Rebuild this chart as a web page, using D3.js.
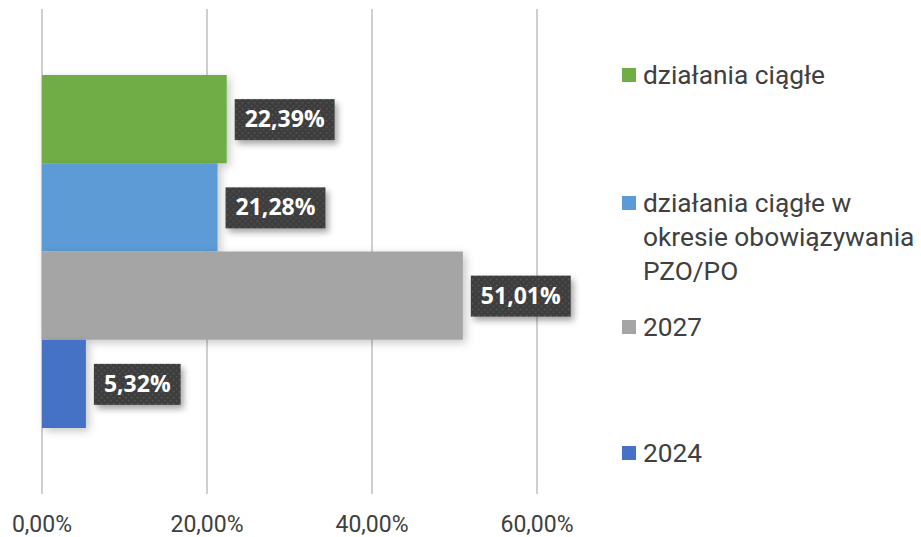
<!DOCTYPE html>
<html>
<head>
<meta charset="utf-8">
<script src="https://cdn.jsdelivr.net/npm/d3@7"></script>
<style>
  body { margin: 0; background: #fff; }
  svg { display: block; }
  .tick-label { font-family: Roboto, sans-serif; font-size: 23px; fill: #404040; }
  .legend-label { font-family: Roboto, sans-serif; font-size: 26.3px; fill: #404040; }
  .value-label { font-family: "Open Sans", sans-serif; font-size: 23px; font-weight: bold; fill: #fff; }
</style>
</head>
<body>
<svg id="chart" width="921" height="537"></svg>
<script>
// data
var series = ['działania ciągłe', 'działania ciągłe w okresie obowiązywania PZO/PO', '2027', '2024'];
var values = [22.39, 21.28, 51.01, 5.32];
var colors = ['#70ad47', '#5b9bd5', '#a5a5a5', '#4472c4'];
var valueLabels = ['22,39%', '21,28%', '51,01%', '5,32%'];
var ticks = [0, 20, 40, 60];
var tickLabels = ['0,00%', '20,00%', '40,00%', '60,00%'];
var legendLines = [['działania ciągłe'], ['działania ciągłe w', 'okresie obowiązywania', 'PZO/PO'], ['2027'], ['2024']];

var svg = d3.select('#chart');
var defs = svg.append('defs');

// soft shadow for bars and labels
var f = defs.append('filter').attr('id', 'shadow')
  .attr('x', '-20%').attr('y', '-20%').attr('width', '150%').attr('height', '160%');
f.append('feDropShadow').attr('dx', 3).attr('dy', 3).attr('stdDeviation', 4)
  .attr('flood-color', '#000').attr('flood-opacity', 0.22);

var f2 = defs.append('filter').attr('id', 'lblshadow')
  .attr('x', '-20%').attr('y', '-20%').attr('width', '150%').attr('height', '170%');
f2.append('feDropShadow').attr('dx', 3).attr('dy', 4).attr('stdDeviation', 3)
  .attr('flood-color', '#000').attr('flood-opacity', 0.35);

// dotted texture in label boxes
var pat = defs.append('pattern').attr('id', 'dots')
  .attr('width', 6).attr('height', 6).attr('patternUnits', 'userSpaceOnUse');
pat.append('rect').attr('width', 6).attr('height', 6).attr('fill', '#3d3d3d');
pat.append('rect').attr('x', 1).attr('y', 1).attr('width', 1.5).attr('height', 1.5).attr('fill', '#5c5c5c');
pat.append('rect').attr('x', 4).attr('y', 4).attr('width', 1.5).attr('height', 1.5).attr('fill', '#555');

var plotTop = 9, plotBottom = 494;
var x = d3.scaleLinear().domain([0, 60]).range([42, 537]);
var y = d3.scaleBand().domain(series).range([plotTop, plotBottom])
  .paddingInner(0).paddingOuter(0.748);

// gridlines
svg.append('g').selectAll('line').data(ticks).join('line')
  .attr('x1', d => x(d)).attr('x2', d => x(d))
  .attr('y1', plotTop).attr('y2', plotBottom)
  .attr('stroke', '#bfbfbf').attr('stroke-width', 1.5);

// tick labels
svg.append('g').selectAll('text').data(ticks).join('text')
  .attr('class', 'tick-label')
  .attr('x', d => x(d)).attr('y', 532)
  .attr('text-anchor', 'middle')
  .text((d, i) => tickLabels[i]);

// bars
svg.append('g').selectAll('rect').data(series).join('rect')
  .attr('x', x(0))
  .attr('y', d => y(d))
  .attr('width', (d, i) => x(values[i]) - x(0))
  .attr('height', y.bandwidth())
  .attr('fill', (d, i) => colors[i])
  .attr('filter', 'url(#shadow)');

// value labels
var lbl = svg.append('g').selectAll('g').data(series).join('g')
  .attr('transform', (d, i) => 'translate(' + (x(values[i]) + 8) + ',' + (y(d) + y.bandwidth() / 2) + ')');
lbl.each(function(d, i) {
  var g = d3.select(this);
  var t = g.append('text').attr('class', 'value-label')
    .attr('x', 0).attr('y', 0).attr('dy', '0.35em')
    .text(valueLabels[i]);
  var w = t.node().getComputedTextLength();
  g.insert('rect', 'text')
    .attr('x', 0).attr('y', -20).attr('width', w + 20).attr('height', 41)
    .attr('fill', 'url(#dots)')
    .attr('filter', 'url(#lblshadow)');
  t.attr('x', 10);
});

// legend
var legendTop = [75, 203, 327, 453];
var lineH = 34;
var leg = svg.append('g').selectAll('g').data(series).join('g')
  .attr('transform', (d, i) => 'translate(622,' + legendTop[i] + ')');
leg.append('rect')
  .attr('x', 0).attr('y', -7).attr('width', 14).attr('height', 14)
  .attr('fill', (d, i) => colors[i]);
leg.append('text').attr('class', 'legend-label')
  .attr('x', 21).attr('y', 0)
  .selectAll('tspan').data((d, i) => legendLines[i]).join('tspan')
  .attr('x', 21).attr('dy', (d, j) => j === 0 ? '0.35em' : lineH)
  .text(d => d);
</script>
</body>
</html>
